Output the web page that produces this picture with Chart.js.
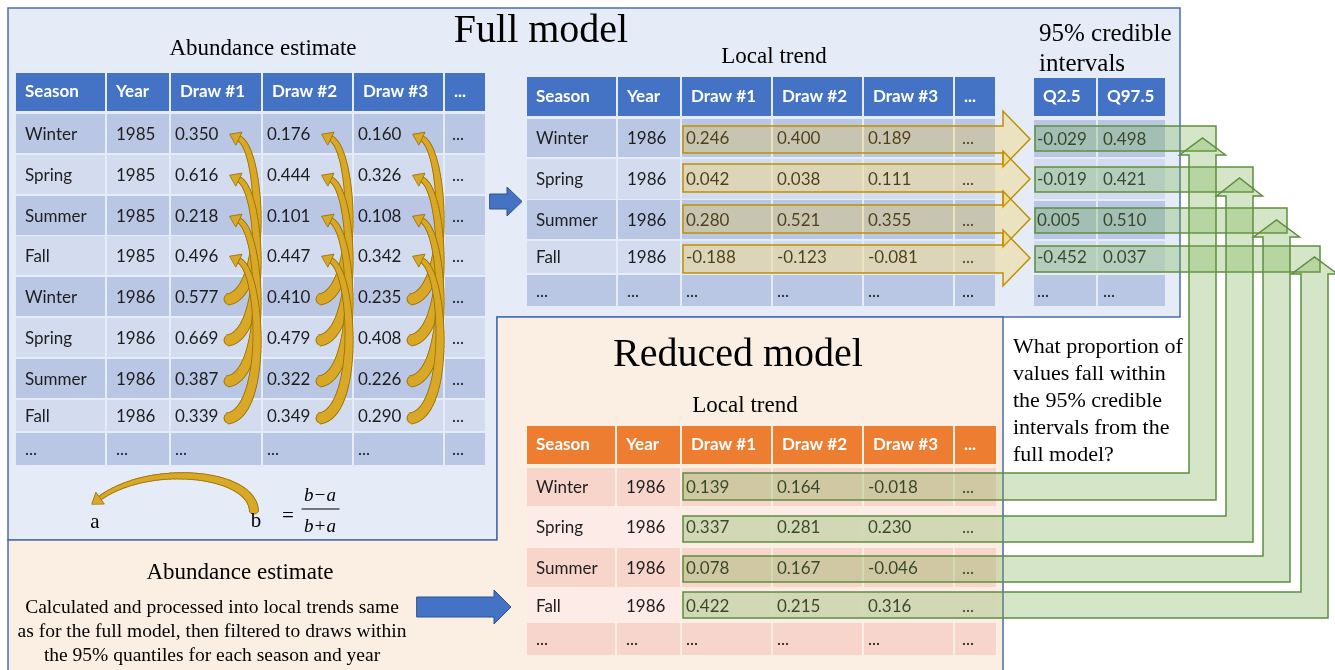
<!DOCTYPE html>
<html lang="en">
<head>
<meta charset="UTF-8">
<title>Full vs reduced model local trends</title>
<script src="https://cdn.jsdelivr.net/npm/chart.js"></script>
<style>
  html, body { margin: 0; padding: 0; background: #fff; }
  #wrap { width: 1335px; height: 670px; }
</style>
</head>
<body>
<div id="wrap"><canvas id="diagram" width="1335" height="670"></canvas></div>
<script>
// ---- values ----
const seasons = ['Winter', 'Spring', 'Summer', 'Fall'];
const abundanceYears = [1985, 1985, 1985, 1985, 1986, 1986, 1986, 1986];
const abundanceDraws = [
  [0.350, 0.176, 0.160],
  [0.616, 0.444, 0.326],
  [0.218, 0.101, 0.108],
  [0.496, 0.447, 0.342],
  [0.577, 0.410, 0.235],
  [0.669, 0.479, 0.408],
  [0.387, 0.322, 0.226],
  [0.339, 0.349, 0.290]
];
const trendYear = 1986;
const fullTrendDraws = [
  [0.246, 0.400, 0.189],
  [0.042, 0.038, 0.111],
  [0.280, 0.521, 0.355],
  [-0.188, -0.123, -0.081]
];
const ciLower = [-0.029, -0.019, 0.005, -0.452];
const ciUpper = [0.498, 0.421, 0.510, 0.037];
const reducedTrendDraws = [
  [0.139, 0.164, -0.018],
  [0.337, 0.281, 0.230],
  [0.078, 0.167, -0.046],
  [0.422, 0.215, 0.316]
];
const drawHeaders = ['Season', 'Year', 'Draw #1', 'Draw #2', 'Draw #3', '...'];
const ciHeaders = ['Q2.5', 'Q97.5'];
const questionLines = ['What proportion of', 'values fall within', 'the 95% credible', 'intervals from the', 'full model?'];
const noteLines = ['Calculated and processed into local trends same',
  'as for the full model, then filtered to draws within',
  'the 95% quantiles for each season and year'];

// ---- layout (figure units, 1 unit = 1 px) ----
const layout = {
  abund: { cols: [15, 106, 170, 262, 353, 444, 486], head: [73, 111],
    rows: [[114, 153], [155, 194], [196, 235], [236, 275], [277, 316], [318, 357], [359, 398], [400, 431], [433, 465]] },
  full: { cols: [526, 617, 681, 772, 863, 954, 996], head: [77, 116],
    rows: [[119, 157], [159, 199], [200, 239], [241, 273], [275, 306]] },
  ci: { cols: [1033, 1097, 1166], head: [78, 116],
    rows: [[120, 157], [159, 199], [201, 239], [241, 273], [275, 306]] },
  reduced: { cols: [526, 616, 681, 772, 863, 954, 997], head: [426, 464],
    rows: [[468, 506], [507, 547], [548, 587], [589, 622], [623, 655]] },
  goldBands: [[126, 153], [164, 192], [205, 233], [245, 273]],
  goldTips: [139, 179, 219, 258],
  ciBands: [[126, 151], [167, 192], [208, 233], [246, 272]],
  ciBandEnds: [1216, 1253, 1287, 1320],
  greenBands: [[473, 500], [516, 542], [556, 582], [592, 618]],
  greenShafts: [[1189, 1216], [1226, 1253], [1263, 1290], [1301, 1328]],
  greenHeadBase: [155, 196, 237, 274],
  greenTips: [138, 178, 220, 257]
};

const fmt = v => v.toFixed(3);
const ell = '...';

const abundRows = abundanceDraws.map((d, i) => [seasons[i % 4], String(abundanceYears[i]), ...d.map(fmt), ell])
  .concat([[ell, ell, ell, ell, ell, ell]]);
const fullRows = fullTrendDraws.map((d, i) => [seasons[i], String(trendYear), ...d.map(fmt), ell])
  .concat([[ell, ell, ell, ell, ell, ell]]);
const ciRows = ciLower.map((q, i) => [fmt(q), fmt(ciUpper[i])]).concat([[ell, ell]]);
const reducedRows = reducedTrendDraws.map((d, i) => [seasons[i], String(trendYear), ...d.map(fmt), ell])
  .concat([[ell, ell, ell, ell, ell, ell]]);

const SANS = 'Lato, "Open Sans", sans-serif';
const SERIF = '"Liberation Serif", "Times New Roman", serif';

const diagramPlugin = {
  id: 'diagram',
  afterDraw(chart) {
    const ctx = chart.ctx;
    const sx = chart.scales.x, sy = chart.scales.y;
    const px = v => sx.getPixelForValue(v);
    const py = v => sy.getPixelForValue(v);

    function rect(x0, y0, x1, y1, fill) {
      ctx.fillStyle = fill;
      ctx.fillRect(px(x0), py(y0), px(x1) - px(x0), py(y1) - py(y0));
    }
    function poly(pts, fill, stroke, lw) {
      ctx.beginPath();
      pts.forEach((p, i) => i ? ctx.lineTo(px(p[0]), py(p[1])) : ctx.moveTo(px(p[0]), py(p[1])));
      ctx.closePath();
      if (fill) { ctx.fillStyle = fill; ctx.fill(); }
      if (stroke) { ctx.strokeStyle = stroke; ctx.lineWidth = lw || 1; ctx.stroke(); }
    }
    function text(s, x, y, font, color, align) {
      ctx.font = font;
      ctx.fillStyle = color;
      ctx.textAlign = align || 'left';
      ctx.textBaseline = 'middle';
      ctx.fillText(s, px(x), py(y));
    }
    function table(spec, head, body, headFill, fills, bodyPad) {
      const c = spec.cols;
      const hy = (spec.head[0] + spec.head[1]) / 2;
      for (let j = 0; j < c.length - 1; j++) {
        rect(c[j] + 1, spec.head[0], c[j + 1] - 1, spec.head[1], headFill);
        text(head[j], c[j] + 10, hy, 'bold 17px ' + SANS, '#ffffff');
      }
      body.forEach((row, i) => {
        const [t, b] = spec.rows[i];
        for (let j = 0; j < c.length - 1; j++) {
          rect(c[j] + 1, t, c[j + 1] - 1, b, fills[i % 2]);
          text(row[j], c[j] + bodyPad[j], (t + b) / 2 + 1, '17px ' + SANS, '#1e1e1e');
        }
      });
    }
    function bez(p0, p1, p2, p3, t) {
      const u = 1 - t;
      return [u * u * u * p0[0] + 3 * u * u * t * p1[0] + 3 * u * t * t * p2[0] + t * t * t * p3[0],
              u * u * u * p0[1] + 3 * u * u * t * p1[1] + 3 * u * t * t * p2[1] + t * t * t * p3[1]];
    }
    function curvedArrow(p0, p1, p2, p3, w0, w1, headLen, headW) {
      const N = 48, pts = [];
      for (let i = 0; i <= N; i++) pts.push(bez(p0, p1, p2, p3, i / N));
      [['#a27a0c', 2], ['#d8a826', 0]].forEach(([col, extra]) => {
        ctx.strokeStyle = col;
        for (let i = 0; i < N; i++) {
          ctx.lineCap = i === 0 ? 'butt' : 'round';
          ctx.lineWidth = w0 + (w1 - w0) * i / N + extra;
          ctx.beginPath();
          ctx.moveTo(px(pts[i][0]), py(pts[i][1]));
          ctx.lineTo(px(pts[i + 1][0]), py(pts[i + 1][1]));
          ctx.stroke();
        }
      });
      let dx = p3[0] - p2[0], dy = p3[1] - p2[1];
      const len = Math.hypot(dx, dy); dx /= len; dy /= len;
      const tip = [p3[0] + dx * headLen, p3[1] + dy * headLen];
      poly([tip, [p3[0] - dy * headW, p3[1] + dx * headW], [p3[0] + dy * headW, p3[1] - dx * headW]],
        '#d8a826', '#a27a0c', 1);
    }

    // frames
    poly([[8, 8], [1180, 8], [1180, 317], [497, 317], [497, 540], [8, 540]], '#e5ecf7', '#4a6cae', 1.5);
    poly([[497, 317], [1003, 317], [1003, 672], [8, 672], [8, 540], [497, 540]], '#fbeee3', '#4a6cae', 1.5);

    // titles
    text('Full model', 541, 31, '40px ' + SERIF, '#000', 'center');
    text('Abundance estimate', 263, 49, '23px ' + SERIF, '#000', 'center');
    text('Local trend', 774, 57, '23px ' + SERIF, '#000', 'center');
    text('95% credible', 1039, 34, '25px ' + SERIF, '#000');
    text('intervals', 1039, 64, '25px ' + SERIF, '#000');
    text('Reduced model', 738, 355, '40px ' + SERIF, '#000', 'center');
    text('Local trend', 745, 406, '23px ' + SERIF, '#000', 'center');

    // abundance table
    const drawPad = [10, 10, 5, 5, 5, 8];
    table(layout.abund, drawHeaders, abundRows, '#4472c4', ['#b9c6e4', '#d3dcef'], drawPad);

    // curved arrows: each value b (row k+4) points back to a (row k)
    const ac = layout.abund.cols;
    const rc = i => (layout.abund.rows[i][0] + layout.abund.rows[i][1]) / 2;
    for (let c = 2; c <= 4; c++) {
      const x = ac[c];
      for (let k = 0; k < 4; k++) {
        const yt = rc(k + 4) + 3, yh = rc(k);
        curvedArrow([x + 57, yt], [x + 98, yt - 4], [x + 92, yh + 16], [x + 69, yh + 5], 10, 4, 10, 7);
      }
    }

    // formula
    curvedArrow([254, 512], [254, 472], [150, 462], [100, 498], 8, 3, 10, 7);
    text('a', 95, 522, '21px ' + SERIF, '#000', 'center');
    text('b', 256, 521, '21px ' + SERIF, '#000', 'center');
    text('=', 288, 516, '21px ' + SERIF, '#000', 'center');
    text('b\u2212a', 320, 496, 'italic 19px ' + SERIF, '#000', 'center');
    text('b+a', 320, 527, 'italic 19px ' + SERIF, '#000', 'center');
    ctx.strokeStyle = '#000'; ctx.lineWidth = 1.2;
    ctx.beginPath(); ctx.moveTo(px(302), py(509)); ctx.lineTo(px(339), py(509)); ctx.stroke();

    // lower-left note
    text('Abundance estimate', 240, 573, '23px ' + SERIF, '#000', 'center');
    noteLines.forEach((s, i) => text(s, 212, 608 + i * 24, '19.5px ' + SERIF, '#000', 'center'));

    // blue arrows
    poly([[490, 194], [507, 194], [507, 187], [522, 201.5], [507, 216], [507, 209], [490, 209]], '#4472c4', '#2f528f', 1);
    poly([[417, 597], [494, 597], [494, 590], [511, 607], [494, 624], [494, 617], [417, 617]], '#4472c4', '#2f528f', 1);

    // full model local trend + gold row arrows
    table(layout.full, drawHeaders, fullRows, '#4472c4', ['#b9c6e4', '#d3dcef'], drawPad);
    layout.goldBands.forEach(([t, b], i) => {
      const yc = layout.goldTips[i];
      poly([[683, t], [1003, t], [1003, yc - 28], [1030, yc], [1003, yc + 28], [1003, b], [683, b]],
        'rgba(255,192,0,0.22)', '#bf9000', 1.5);
    });

    // credible intervals
    table(layout.ci, ciHeaders, ciRows, '#4472c4', ['#b9c6e4', '#d3dcef'], [4, 6]);
    layout.ciBands.forEach(([t, b], i) => {
      poly([[1035, t], [layout.ciBandEnds[i], t], [layout.ciBandEnds[i], b], [1035, b]],
        'rgba(112,173,71,0.3)', '#5e8e3e', 1.5);
    });

    // reduced model local trend
    table(layout.reduced, drawHeaders, reducedRows, '#ed7d31', ['#f8d5ca', '#fcebe6'], drawPad);

    // question
    questionLines.forEach((s, i) => text(s, 1013, 347 + i * 27, '22px ' + SERIF, '#000'));

    // green arrows from reduced rows up into the intervals
    layout.greenBands.forEach(([t, b], i) => {
      const [xl, xr] = layout.greenShafts[i];
      const hb = layout.greenHeadBase[i], tip = layout.greenTips[i];
      const xm = (xl + xr) / 2;
      poly([[683, t], [xl, t], [xl, hb], [xm - 23, hb], [xm, tip], [xm + 23, hb], [xr, hb], [xr, b], [683, b]],
        'rgba(112,173,71,0.3)', '#5e8e3e', 1.5);
    });
  }
};

new Chart(document.getElementById('diagram'), {
  type: 'scatter',
  data: { datasets: [{ data: [] }] },
  options: {
    responsive: false,
    animation: false,
    layout: { padding: 0 },
    plugins: { legend: { display: false }, tooltip: { enabled: false } },
    scales: {
      x: { type: 'linear', min: 0, max: 1335, display: false },
      y: { type: 'linear', min: 0, max: 670, reverse: true, display: false }
    }
  },
  plugins: [diagramPlugin]
});
</script>
</body>
</html>
